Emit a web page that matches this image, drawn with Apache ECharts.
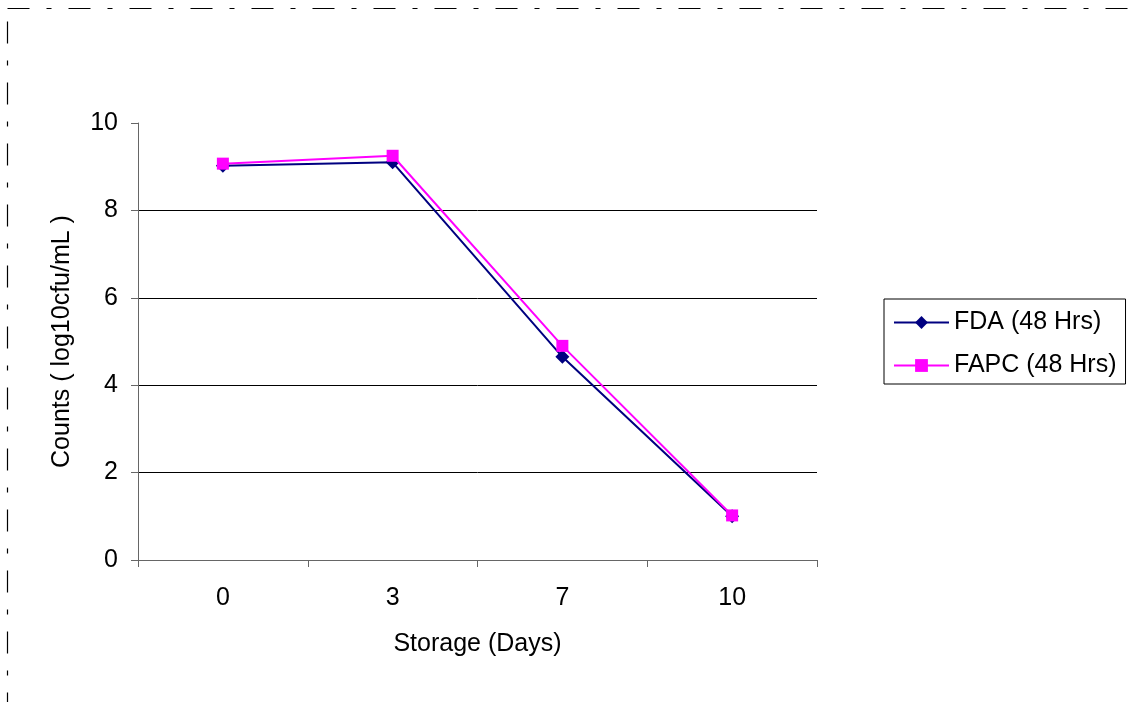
<!DOCTYPE html>
<html>
<head>
<meta charset="utf-8">
<script src="https://cdn.jsdelivr.net/npm/echarts@6/dist/echarts.min.js"></script>
<style>
html,body{margin:0;padding:0;background:#fff;}
#chart{width:1138px;height:702px;}
</style>
</head>
<body>
<div id="chart"></div>
<script>
const categories = ['0', '3', '7', '10'];
const fdaValues = [9.02, 9.1, 4.65, 1.0];
const fapcValues = [9.07, 9.25, 4.9, 1.02];
const seriesNames = ['FDA (48 Hrs)', 'FAPC (48 Hrs)'];
const xTitle = 'Storage (Days)';
const yTitle = 'Counts ( log10cfu/mL )';

const chart = echarts.init(document.getElementById('chart'), null, {renderer: 'canvas'});
const font = 'Liberation Sans, Arial, sans-serif';
const fs = 25;
chart.setOption({
  animation: false,
  backgroundColor: '#fff',
  graphic: [{
    type: 'rect',
    shape: {x: 7.5, y: 8.5, width: 1200, height: 800},
    style: {fill: 'none', stroke: '#000', lineWidth: 1.2, lineDash: [22, 17, 5, 17]},
    silent: true
  }],
  grid: {left: 138, right: 321, top: 123, bottom: 142, containLabel: false},
  legend: {
    orient: 'vertical',
    left: 884,
    top: 299,
    data: seriesNames,
    borderColor: '#000',
    borderWidth: 1,
    padding: [11, 9, 6, 9],
    itemWidth: 55,
    itemHeight: 16,
    itemGap: 18,
    textStyle: {fontFamily: font, fontSize: fs, color: '#000', lineHeight: 25}
  },
  xAxis: {
    type: 'category',
    data: categories,
    boundaryGap: true,
    name: xTitle,
    nameLocation: 'middle',
    nameGap: 72,
    nameTextStyle: {fontFamily: font, fontSize: fs, color: '#000'},
    axisLine: {lineStyle: {color: '#666', width: 1}},
    axisTick: {show: true, length: 7, inside: false, lineStyle: {color: '#666'}},
    axisLabel: {fontFamily: font, fontSize: fs, color: '#000', margin: 26},
    splitLine: {show: false}
  },
  yAxis: {
    type: 'value',
    min: 0,
    max: 10,
    interval: 2,
    name: yTitle,
    nameLocation: 'middle',
    nameRotate: 90,
    nameGap: 63,
    nameTextStyle: {fontFamily: font, fontSize: fs, color: '#000'},
    axisLine: {show: true, lineStyle: {color: '#666', width: 1}},
    axisTick: {show: true, length: 7, inside: false, lineStyle: {color: '#666'}},
    axisLabel: {fontFamily: font, fontSize: fs, color: '#000', margin: 20},
    splitLine: {show: true, showMinLine: false, showMaxLine: false, lineStyle: {color: '#000', width: 1}}
  },
  series: [{
    name: seriesNames[0],
    type: 'line',
    data: fdaValues,
    symbol: 'diamond',
    symbolSize: 14,
    lineStyle: {color: '#000080', width: 2},
    itemStyle: {color: '#000080'},
    z: 2
  }, {
    name: seriesNames[1],
    type: 'line',
    data: fapcValues,
    symbol: 'rect',
    symbolSize: 12,
    lineStyle: {color: '#FF00FF', width: 2},
    itemStyle: {color: '#FF00FF'},
    z: 3
  }]
});
</script>
</body>
</html>
